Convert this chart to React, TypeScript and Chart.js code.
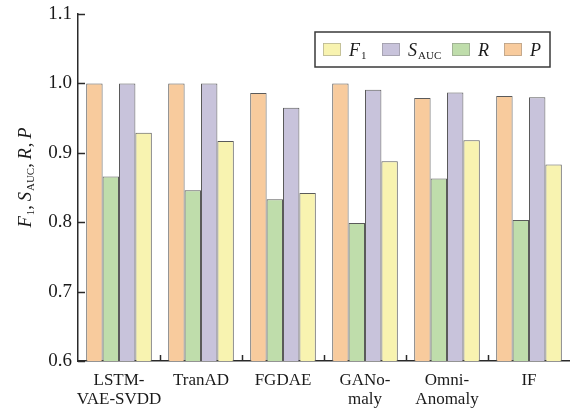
import React, { useEffect, useRef } from "react";
import { Chart, registerables } from "chart.js";

Chart.register(...registerables);

const categories: (string | string[])[] = [
  ["LSTM-", "VAE-SVDD"],
  "TranAD",
  "FGDAE",
  ["GANo-", "maly"],
  ["Omni-", "Anomaly"],
  "IF",
];
const valuesP = [1.0, 1.0, 0.986, 1.0, 0.979, 0.982];
const valuesR = [0.866, 0.846, 0.833, 0.799, 0.863, 0.803];
const valuesS = [1.0, 1.0, 0.965, 0.991, 0.987, 0.98];
const valuesF1 = [0.929, 0.917, 0.842, 0.888, 0.918, 0.883];
const yMin = 0.6;
const yMax = 1.1;
const yStep = 0.1;

const FONT = "'Liberation Serif', 'DejaVu Serif', serif";
const colP = "#F8CB9D";
const colR = "#BFDDAB";
const colS = "#C8C3DB";
const colF = "#F8F3B0";
const barBorder = "#5a5a5a";
const axisColor = "#2a2a2a";

type Seg = { t: string; kind: "i" | "n" | "sub" };

const legendItems: { color: string; segs: Seg[] }[] = [
  { color: colF, segs: [{ t: "F", kind: "i" }, { t: "1", kind: "sub" }] },
  { color: colS, segs: [{ t: "S", kind: "i" }, { t: "AUC", kind: "sub" }] },
  { color: colR, segs: [{ t: "R", kind: "i" }] },
  { color: colP, segs: [{ t: "P", kind: "i" }] },
];

const yTitle: Seg[] = [
  { t: "F", kind: "i" },
  { t: "1", kind: "sub" },
  { t: ",\u2009", kind: "n" },
  { t: "S", kind: "i" },
  { t: "AUC", kind: "sub" },
  { t: ",\u2009", kind: "n" },
  { t: "R", kind: "i" },
  { t: ",\u2009", kind: "n" },
  { t: "P", kind: "i" },
];

function segFont(kind: Seg["kind"], size: number) {
  if (kind === "i") return `italic ${size}px ${FONT}`;
  if (kind === "sub") return `${Math.round(size * 0.6)}px ${FONT}`;
  return `${size}px ${FONT}`;
}

function measureSegs(ctx: CanvasRenderingContext2D, segs: Seg[], size: number) {
  let w = 0;
  for (const s of segs) {
    ctx.font = segFont(s.kind, size);
    w += ctx.measureText(s.t).width + (s.kind === "i" ? 1 : 0);
  }
  return w;
}

function drawSegs(ctx: CanvasRenderingContext2D, segs: Seg[], x: number, y: number, size: number) {
  let cx = x;
  ctx.textBaseline = "alphabetic";
  ctx.textAlign = "left";
  for (const s of segs) {
    ctx.font = segFont(s.kind, size);
    const dy = s.kind === "sub" ? size * 0.18 : 0;
    ctx.fillText(s.t, cx, y + dy);
    cx += ctx.measureText(s.t).width + (s.kind === "i" ? 1 : 0);
  }
}

const decorPlugin = {
  id: "decor",
  afterDraw(chart: any) {
    const ctx: CanvasRenderingContext2D = chart.ctx;
    const area = chart.chartArea;
    const y = chart.scales.y;
    const x = chart.scales.x;
    ctx.save();
    ctx.strokeStyle = axisColor;
    ctx.lineWidth = 1.5;
    // inward y ticks
    for (const t of y.ticks) {
      const py = Math.round(y.getPixelForValue(t.value)) + 0.5;
      ctx.beginPath();
      ctx.moveTo(area.left, py);
      ctx.lineTo(area.left + 7, py);
      ctx.stroke();
    }
    // x ticks between categories
    for (let i = 1; i < categories.length; i++) {
      const px = Math.round((x.getPixelForValue(i - 1) + x.getPixelForValue(i)) / 2) + 0.5;
      ctx.beginPath();
      ctx.moveTo(px, area.bottom);
      ctx.lineTo(px, area.bottom - 6);
      ctx.stroke();
    }
    // legend box
    const bx = 315, by = 32, bw = 235, bh = 35;
    ctx.fillStyle = "#ffffff";
    ctx.fillRect(bx, by, bw, bh);
    ctx.strokeStyle = "#3a3a3a";
    ctx.lineWidth = 1.5;
    ctx.strokeRect(bx, by, bw, bh);
    const starts = [323, 382, 452, 504];
    legendItems.forEach((it, i) => {
      const sx = starts[i];
      ctx.fillStyle = it.color;
      ctx.fillRect(sx, 43, 18, 13);
      ctx.strokeStyle = "rgba(120,120,120,0.5)";
      ctx.lineWidth = 0.8;
      ctx.strokeRect(sx + 0.5, 43.5, 17, 12);
      ctx.fillStyle = "#1a1a1a";
      drawSegs(ctx, it.segs, sx + 26, 56, 18);
    });
    // y title
    const size = 18.5;
    ctx.fillStyle = "#1a1a1a";
    const w = measureSegs(ctx, yTitle, size);
    ctx.translate(31, 177);
    ctx.rotate(-Math.PI / 2);
    drawSegs(ctx, yTitle, -w / 2, 0, size);
    ctx.restore();
  },
};

export default function App() {
  const ref = useRef<HTMLCanvasElement | null>(null);
  useEffect(() => {
    if (!ref.current) return;
    const mk = (label: string, data: number[], color: string) => ({
      label,
      data,
      backgroundColor: color,
      borderColor: barBorder,
      borderWidth: 1,
      borderSkipped: "bottom" as const,
      categoryPercentage: 0.8,
      barPercentage: 1.0,
    });
    const chart = new Chart(ref.current, {
      type: "bar",
      data: {
        labels: categories,
        datasets: [
          mk("P", valuesP, colP),
          mk("R", valuesR, colR),
          mk("S_AUC", valuesS, colS),
          mk("F1", valuesF1, colF),
        ],
      },
      options: {
        responsive: false,
        animation: false,
        layout: { padding: { top: 14, right: 0, left: 0, bottom: 0 } },
        plugins: {
          legend: { display: false },
          tooltip: { enabled: false },
        },
        scales: {
          x: {
            grid: { display: false, drawTicks: false },
            border: { display: true, color: axisColor, width: 1.5 },
            ticks: {
              color: "#1a1a1a",
              font: { family: FONT, size: 17, lineHeight: 1.12 },
              padding: 10,
              maxRotation: 0,
              autoSkip: false,
            },
            afterFit: (s: any) => {
              s.height = 49;
              s.paddingLeft = 0;
              s.paddingRight = 0;
            },
          },
          y: {
            min: yMin,
            max: yMax,
            grid: { display: false, drawTicks: false },
            border: { display: true, color: axisColor, width: 1.5 },
            ticks: {
              stepSize: yStep,
              color: "#1a1a1a",
              font: { family: FONT, size: 19 },
              padding: 6,
              callback: (v: any) => Number(v).toFixed(1),
            },
            afterFit: (s: any) => {
              s.width = 78;
              s.paddingTop = 0;
              s.paddingBottom = 0;
            },
          },
        },
      },
      plugins: [decorPlugin],
    });
    return () => chart.destroy();
  }, []);
  return (
    <canvas
      ref={ref}
      width={570}
      height={410}
      style={{ position: "absolute", left: 0, top: 0, width: 570, height: 410, background: "#fff" }}
    />
  );
}
